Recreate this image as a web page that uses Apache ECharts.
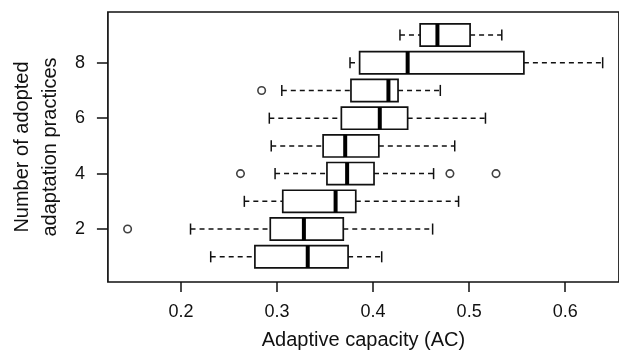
<!DOCTYPE html>
<html>
<head>
<meta charset="utf-8">
<title>Adaptive capacity by number of adopted practices</title>
<script src="https://cdn.jsdelivr.net/npm/echarts@6/dist/echarts.min.js"></script>
<style>
  html, body { margin: 0; padding: 0; background: #fff; }
  #chart { width: 619px; height: 355px; }
</style>
</head>
<body>
<div id="chart"></div>
<script>
// number of adopted practices (y position of each box)
const groups = [1, 2, 3, 4, 5, 6, 7, 8, 9];
// box statistics
const whiskerLow = [0.231, 0.210, 0.266, 0.298, 0.294, 0.292, 0.305, 0.376, 0.428];
const q1 = [0.277, 0.293, 0.306, 0.352, 0.348, 0.367, 0.377, 0.386, 0.449];
const median = [0.332, 0.328, 0.361, 0.373, 0.371, 0.407, 0.416, 0.436, 0.467];
const q3 = [0.374, 0.369, 0.382, 0.401, 0.406, 0.436, 0.426, 0.557, 0.501];
const whiskerHigh = [0.409, 0.462, 0.489, 0.463, 0.485, 0.517, 0.470, 0.639, 0.534];
// outliers: [value, group]
const outlierValues = [0.1445, 0.262, 0.480, 0.528, 0.284];
const outlierGroups = [2, 4, 4, 4, 7];

const xTicks = [0.2, 0.3, 0.4, 0.5, 0.6];
const yTicks = [2, 4, 6, 8];

const ink = '#111';
const font = '"Liberation Sans", Arial, sans-serif';

const boxData = groups.map((g, i) => [g, whiskerLow[i], q1[i], median[i], q3[i], whiskerHigh[i]]);
const outliers = outlierValues.map((v, i) => [v, outlierGroups[i]]);

function renderBox(params, api) {
  const y = api.value(0);
  const pt = v => api.coord([v, y]);
  const h = api.size([0, 0.8])[1];
  const lo = pt(api.value(1)), b1 = pt(api.value(2)), md = pt(api.value(3));
  const b3 = pt(api.value(4)), hi = pt(api.value(5));
  const cy = lo[1];
  const cap = h / 4;
  const dash = {stroke: ink, lineWidth: 1.5, lineDash: [5, 4]};
  const solid = {stroke: ink, lineWidth: 1.5};
  return {
    type: 'group',
    children: [
      {type: 'line', shape: {x1: lo[0], y1: cy, x2: b1[0], y2: cy}, style: dash},
      {type: 'line', shape: {x1: b3[0], y1: cy, x2: hi[0], y2: cy}, style: dash},
      {type: 'line', shape: {x1: lo[0], y1: cy - cap, x2: lo[0], y2: cy + cap}, style: solid},
      {type: 'line', shape: {x1: hi[0], y1: cy - cap, x2: hi[0], y2: cy + cap}, style: solid},
      {type: 'rect', shape: {x: b1[0], y: cy - h / 2, width: b3[0] - b1[0], height: h},
        style: {fill: '#fff', stroke: ink, lineWidth: 1.7}},
      {type: 'line', shape: {x1: md[0], y1: cy - h / 2, x2: md[0], y2: cy + h / 2},
        style: {stroke: '#000', lineWidth: 4}}
    ]
  };
}

const chart = echarts.init(document.getElementById('chart'));
chart.setOption({
  animation: false,
  backgroundColor: '#fff',
  grid: {
    left: 107, top: 12, right: -8, bottom: 72,
    show: true, borderColor: ink, borderWidth: 1.7
  },
  xAxis: {
    type: 'value',
    min: 0.124, max: 0.656,
    name: 'Adaptive capacity (AC)',
    nameLocation: 'middle',
    nameGap: 48,
    nameTextStyle: {fontFamily: font, fontSize: 20, color: ink},
    axisLine: {show: false},
    axisTick: {show: true, length: 10, customValues: xTicks, lineStyle: {color: ink, width: 1.5}},
    axisLabel: {customValues: xTicks, margin: 21, fontFamily: font, fontSize: 18, color: ink},
    splitLine: {show: false}
  },
  yAxis: {
    type: 'value',
    min: 0.09, max: 9.83,
    name: 'Number of adopted\nadaptation practices',
    nameLocation: 'middle',
    nameGap: 42,
    nameTextStyle: {fontFamily: font, fontSize: 20, lineHeight: 28, color: ink},
    axisLine: {show: false},
    axisTick: {show: true, length: 11, customValues: yTicks, lineStyle: {color: ink, width: 1.5}},
    axisLabel: {customValues: yTicks, margin: 23, fontFamily: font, fontSize: 18, color: ink},
    splitLine: {show: false}
  },
  series: [
    {
      type: 'custom',
      renderItem: renderBox,
      encode: {x: [1, 2, 3, 4, 5], y: 0},
      data: boxData
    },
    {
      type: 'scatter',
      symbol: 'circle',
      symbolSize: 7.5,
      itemStyle: {color: '#fff', borderColor: ink, borderWidth: 1.6},
      data: outliers
    }
  ]
});
</script>
</body>
</html>
